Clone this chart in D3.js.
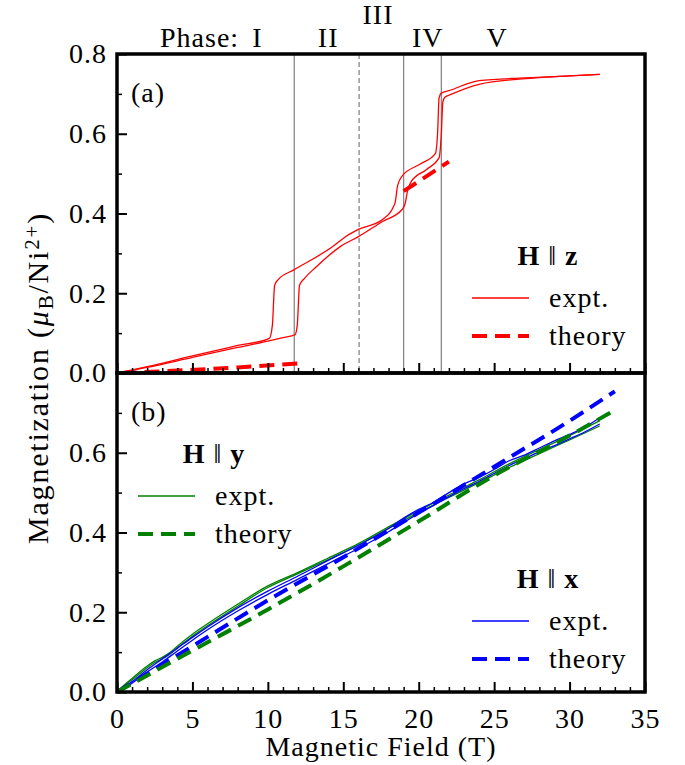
<!DOCTYPE html>
<html>
<head>
<meta charset="utf-8">
<script src="https://cdn.jsdelivr.net/npm/d3@7"></script>
<style>
  body { margin: 0; background: #fff; }
  svg text { font-family: "Liberation Serif", "DejaVu Serif", serif; fill: #000; letter-spacing: 1px; }
</style>
</head>
<body>
<script>
// ---- data ----
// panel (a): H || z, up sweep
var zUpField = [0, 2, 5, 8, 10, 11.0, 11.8, 11.95, 12.1, 12.4, 13.2, 14.8, 16, 17.6, 18.9, 19.1, 19.25, 19.5, 20.5, 21.35, 21.5, 21.6, 21.75, 22.1, 24, 27.4, 30, 32];
var zUpMag = [0, 0.014, 0.039, 0.064, 0.08, 0.089, 0.096, 0.12, 0.22, 0.236, 0.266, 0.317, 0.342, 0.38, 0.41, 0.425, 0.455, 0.48, 0.51, 0.54, 0.6, 0.68, 0.692, 0.698, 0.724, 0.739, 0.745, 0.749];
// panel (a): H || z, down sweep (stored with rising field)
var zDownField = [0, 2, 5, 8, 10.1, 10.3, 10.45, 10.7, 11.7, 14.3, 15.2, 16, 17.6, 18.3, 18.45, 18.6, 18.9, 20.1, 21.1, 21.25, 21.35, 21.5, 22, 24, 27, 30, 32];
var zDownMag = [0, 0.016, 0.043, 0.069, 0.087, 0.12, 0.22, 0.235, 0.258, 0.317, 0.343, 0.36, 0.385, 0.415, 0.43, 0.47, 0.494, 0.524, 0.55, 0.6, 0.69, 0.702, 0.708, 0.733, 0.74, 0.745, 0.749];
// panel (a): theory, two segments
var zTheoryField1 = [0.3, 4, 8, 12];
var zTheoryMag1 = [0, 0.006, 0.014, 0.024];
var zTheoryField2 = [19, 22];
var zTheoryMag2 = [0.456, 0.53];

// panel (b): H || y
var yExptField = [0, 0.5, 1, 1.5, 2, 2.5, 3, 3.5, 4, 5, 6, 8, 10, 12, 14, 16, 18, 20, 22, 24, 26, 28, 30, 32];
var yExptMag1 = [0, 0.016, 0.031, 0.046, 0.061, 0.074, 0.083, 0.095, 0.11, 0.14, 0.166, 0.215, 0.262, 0.297, 0.332, 0.368, 0.41, 0.45, 0.488, 0.525, 0.563, 0.598, 0.632, 0.667];
var yExptMag2 = [0, 0.018, 0.034, 0.05, 0.065, 0.078, 0.087, 0.099, 0.115, 0.145, 0.171, 0.22, 0.266, 0.3, 0.336, 0.372, 0.414, 0.455, 0.494, 0.532, 0.572, 0.608, 0.643, 0.68];
var yTheoryField = [0, 5, 10, 15, 20, 25, 30, 33];
var yTheoryMag = [0, 0.104, 0.207, 0.315, 0.428, 0.543, 0.643, 0.707];

// panel (b): H || x
var xExptField = [0, 1, 2, 3, 4, 5, 6, 8, 10, 12, 14, 16, 18, 19, 20, 21, 22, 23, 24, 25, 26, 27, 28, 29, 30, 31, 32];
var xExptMag1 = [0, 0.022, 0.05, 0.075, 0.103, 0.13, 0.156, 0.203, 0.245, 0.283, 0.322, 0.36, 0.402, 0.425, 0.448, 0.468, 0.49, 0.51, 0.528, 0.548, 0.568, 0.585, 0.602, 0.618, 0.635, 0.652, 0.672];
var xExptMag2 = [0, 0.026, 0.056, 0.083, 0.11, 0.137, 0.163, 0.211, 0.253, 0.291, 0.33, 0.368, 0.41, 0.436, 0.458, 0.476, 0.5, 0.522, 0.538, 0.558, 0.58, 0.594, 0.612, 0.63, 0.646, 0.664, 0.688];
var xTheoryField = [0, 5, 10, 15, 20, 25, 30, 33];
var xTheoryMag = [0, 0.115, 0.23, 0.338, 0.45, 0.565, 0.68, 0.754];

// phase boundaries (T) and labels
var phaseLines = [11.75, 16.05, 19.0, 21.5];
var phaseDashed = [false, true, false, false];
var phaseNames = ["I", "II", "III", "IV", "V"];
var phaseLabelField = [9.3, 14.0, 17.3, 20.6, 25.2];

var xTicks = [0, 5, 10, 15, 20, 25, 30, 35];
var yTicks = [0, 0.2, 0.4, 0.6, 0.8];

function draw() {
  var width = 685;
  var height = 765;
  var fs = 28;

  var svg = d3.select("body")
    .append("svg")
    .attr("width", width)
    .attr("height", height);

  var left = 117, right = 645, top = 54, mid = 373, bottom = 692;

  var x = d3.scaleLinear().domain([0, 35]).range([left, right]);
  var yA = d3.scaleLinear().domain([0, 0.8]).range([mid, top]);
  var yB = d3.scaleLinear().domain([0, 0.8]).range([bottom, mid]);

  function zip(xs, ys) {
    return xs.map(function (v, i) { return [v, ys[i]]; });
  }

  function lineFor(ys) {
    return d3.line()
      .x(function (d) { return x(d[0]); })
      .y(function (d) { return ys(d[1]); })
      .curve(d3.curveMonotoneX);
  }

  // phase boundary lines in (a)
  svg.selectAll(".phase")
    .data(phaseLines)
    .enter()
    .append("line")
    .attr("x1", function (d) { return x(d); })
    .attr("x2", function (d) { return x(d); })
    .attr("y1", top)
    .attr("y2", mid)
    .attr("stroke", "#888")
    .attr("stroke-width", 1.3)
    .attr("stroke-dasharray", function (d, i) { return phaseDashed[i] ? "5,3" : null; });

  // ---- panel (a) curves ----
  var la = lineFor(yA);
  [zip(zUpField, zUpMag), zip(zDownField, zDownMag)].forEach(function (pts) {
    svg.append("path").attr("d", la(pts))
      .attr("fill", "none").attr("stroke", "#ff0000").attr("stroke-width", 1.3);
  });
  [zip(zTheoryField1, zTheoryMag1), zip(zTheoryField2, zTheoryMag2)].forEach(function (pts) {
    svg.append("path").attr("d", la(pts))
      .attr("fill", "none").attr("stroke", "#ff0000").attr("stroke-width", 4)
      .attr("stroke-dasharray", "15,8");
  });

  // ---- panel (b) curves ----
  var lb = lineFor(yB);
  [yExptMag1, yExptMag2].forEach(function (m) {
    svg.append("path").attr("d", lb(zip(yExptField, m)))
      .attr("fill", "none").attr("stroke", "#008000").attr("stroke-width", 1.3);
  });
  [xExptMag1, xExptMag2].forEach(function (m) {
    svg.append("path").attr("d", lb(zip(xExptField, m)))
      .attr("fill", "none").attr("stroke", "#0000ff").attr("stroke-width", 1.3);
  });
  svg.append("path").attr("d", lb(zip(xTheoryField, xTheoryMag)))
    .attr("fill", "none").attr("stroke", "#0000ff").attr("stroke-width", 4)
    .attr("stroke-dasharray", "15,8");
  svg.append("path").attr("d", lb(zip(yTheoryField, yTheoryMag)))
    .attr("fill", "none").attr("stroke", "#008000").attr("stroke-width", 4)
    .attr("stroke-dasharray", "15,8");

  // ---- axes (ticks inward) ----
  function styleAxis(g) {
    g.select(".domain").remove();
    g.selectAll("text").attr("font-size", fs).attr("font-family", "Liberation Serif");
    g.selectAll("line").attr("stroke", "#000").attr("stroke-width", 2);
  }
  function minor(g) {
    g.select(".domain").remove();
    g.selectAll("text").remove();
    g.selectAll("line").attr("stroke", "#000").attr("stroke-width", 1.5);
  }
  var xMinor = d3.range(1, 35).filter(function (d) { return d % 5; });

  // left axis, panel (a)
  svg.append("g").attr("transform", "translate(" + left + ",0)")
    .call(d3.axisLeft(yA).tickValues(yTicks).tickFormat(d3.format(".1f"))
      .tickSizeInner(-10).tickSizeOuter(0).tickPadding(10))
    .call(styleAxis);
  svg.append("g").attr("transform", "translate(" + left + ",0)")
    .call(d3.axisLeft(yA).tickValues([0.1, 0.3, 0.5, 0.7]).tickSizeInner(-5).tickSizeOuter(0))
    .call(minor);

  // left axis, panel (b)
  svg.append("g").attr("transform", "translate(" + left + ",0)")
    .call(d3.axisLeft(yB).tickValues([0, 0.2, 0.4, 0.6]).tickFormat(d3.format(".1f"))
      .tickSizeInner(-10).tickSizeOuter(0).tickPadding(10))
    .call(styleAxis);
  svg.append("g").attr("transform", "translate(" + left + ",0)")
    .call(d3.axisLeft(yB).tickValues([0.1, 0.3, 0.5, 0.7]).tickSizeInner(-5).tickSizeOuter(0))
    .call(minor);

  // bottom axis of (a), no labels
  svg.append("g").attr("transform", "translate(0," + mid + ")")
    .call(d3.axisBottom(x).tickValues(xTicks).tickSizeInner(-10).tickSizeOuter(0).tickFormat(""))
    .call(styleAxis);
  svg.append("g").attr("transform", "translate(0," + mid + ")")
    .call(d3.axisBottom(x).tickValues(xMinor).tickSizeInner(-5).tickSizeOuter(0))
    .call(minor);

  // bottom axis of (b)
  svg.append("g").attr("transform", "translate(0," + bottom + ")")
    .call(d3.axisBottom(x).tickValues(xTicks).tickSizeInner(-10).tickSizeOuter(0).tickPadding(16))
    .call(styleAxis);
  svg.append("g").attr("transform", "translate(0," + bottom + ")")
    .call(d3.axisBottom(x).tickValues(xMinor).tickSizeInner(-5).tickSizeOuter(0))
    .call(minor);

  // frames
  [[top, mid], [mid, bottom]].forEach(function (r) {
    svg.append("rect")
      .attr("x", left).attr("y", r[0])
      .attr("width", right - left).attr("height", r[1] - r[0])
      .attr("fill", "none").attr("stroke", "#000").attr("stroke-width", 3.5);
  });

  // ---- texts ----
  svg.append("text").attr("x", (left + right) / 2).attr("y", 756)
    .attr("text-anchor", "middle").attr("font-size", fs).text("Magnetic Field (T)");

  var yl = svg.append("text")
    .attr("transform", "translate(48,378) rotate(-90)")
    .attr("text-anchor", "middle").attr("font-size", 30)
    .style("letter-spacing", "1.8px");
  yl.append("tspan").text("Magnetization (");
  yl.append("tspan").attr("font-style", "italic").text("μ");
  yl.append("tspan").attr("baseline-shift", "-25%").attr("font-size", 21).text("B");
  yl.append("tspan").text("/Ni");
  yl.append("tspan").attr("baseline-shift", "45%").attr("font-size", 21).text("2+");
  yl.append("tspan").text(")");

  svg.append("text").attr("x", 131).attr("y", 102).attr("font-size", fs).text("(a)");
  svg.append("text").attr("x", 131).attr("y", 421).attr("font-size", fs).text("(b)");

  // phase labels
  svg.append("text").attr("x", 160).attr("y", 47).attr("font-size", fs).text("Phase:");
  var phaseY = [47, 47, 24, 47, 47];
  svg.selectAll(".phaseName")
    .data(phaseNames)
    .enter()
    .append("text")
    .attr("x", function (d, i) { return x(phaseLabelField[i]); })
    .attr("y", function (d, i) { return phaseY[i]; })
    .attr("text-anchor", "middle")
    .attr("font-size", fs)
    .text(function (d) { return d; });

  // legends
  function legend(cx, ty, axisName, color) {
    var t = svg.append("text").attr("x", cx).attr("y", ty)
      .attr("text-anchor", "middle").attr("font-size", fs);
    t.append("tspan").attr("font-weight", "bold").text("H");
    t.append("tspan").text(" ‖ ");
    t.append("tspan").attr("font-weight", "bold").text(axisName);
    var lx = cx - 76;
    svg.append("line").attr("x1", lx).attr("x2", lx + 57)
      .attr("y1", ty + 33).attr("y2", ty + 33)
      .attr("stroke", color).attr("stroke-width", 1.6);
    svg.append("text").attr("x", lx + 77).attr("y", ty + 42)
      .attr("font-size", fs).text("expt.");
    svg.append("line").attr("x1", lx).attr("x2", lx + 57)
      .attr("y1", ty + 71).attr("y2", ty + 71)
      .attr("stroke", color).attr("stroke-width", 4).attr("stroke-dasharray", "15,8");
    svg.append("text").attr("x", lx + 77).attr("y", ty + 80)
      .attr("font-size", fs).text("theory");
  }
  legend(548, 265, "z", "#ff0000");
  legend(214, 463, "y", "#008000");
  legend(548, 588, "x", "#0000ff");
}

draw();
</script>
</body>
</html>
